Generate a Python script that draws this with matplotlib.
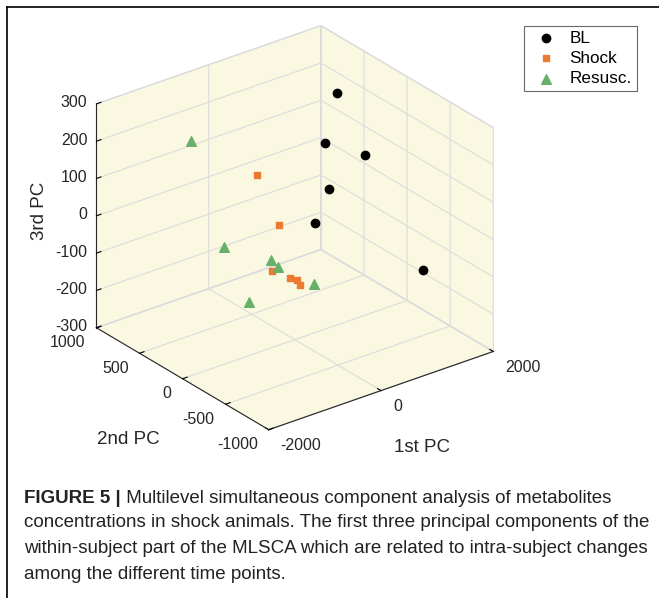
import matplotlib
matplotlib.use('Agg')
import matplotlib.pyplot as plt
from matplotlib.lines import Line2D
from mpl_toolkits.mplot3d import proj3d

plt.rcParams['font.family'] = ['Liberation Sans', 'DejaVu Sans']
plt.rcParams['axes.unicode_minus'] = False

# scores on the first three within-subject principal components
bl_pc1 = [1200, 1000, 1600, 900, 700, 1800]
bl_pc2 = [293, 302, 226, 186, 222, -313]
bl_pc3 = [258, 133, 81, 30, -55, -164]

shock_pc1 = [-600, -300, -700, -500, -400, -450]
shock_pc2 = [53, -7, -196, -267, -287, -351]
shock_pc3 = [166, 25, -53, -73, -81, -83]

resusc_pc1 = [-1500, -1200, -600, -550, -200, -1000]
resusc_pc2 = [233, 44, -119, -168, -354, -120]
resusc_pc3 = [280, 6, -39, -54, -91, -131]

pc1_ticks = [-2000, 0, 2000]
pc2_ticks = [-1000, -500, 0, 500, 1000]
pc3_ticks = [-300, -200, -100, 0, 100, 200, 300]

caption_head = 'FIGURE 5 |'
caption_line1 = ' Multilevel simultaneous component analysis of metabolites'
caption_rest = ('concentrations in shock animals. The first three principal components of the\n'
                'within-subject part of the MLSCA which are related to intra-subject changes\n'
                'among the different time points.')

txt = '#262626'
W, H = 659, 598
fig = plt.figure(figsize=(W / 100, H / 100), dpi=100)
ax = fig.add_axes([0.0065, 0.2253, 0.863, 0.7672], projection='3d')
ax.set_proj_type('ortho')
ax.view_init(elev=27, azim=-127.5)
ax.set_box_aspect((1, 1, 0.888))

ax.scatter(bl_pc1, bl_pc2, bl_pc3, marker='o', s=36, color='black',
           depthshade=False, label='BL')
ax.scatter(shock_pc1, shock_pc2, shock_pc3, marker='s', s=20, color='#ea7b30',
           depthshade=False, label='Shock')
ax.scatter(resusc_pc1, resusc_pc2, resusc_pc3, marker='^', s=48, color='#66b06a',
           depthshade=False, label='Resusc.')

ax.set_xlim(-2000, 2000)
ax.set_ylim(-1000, 1000)
ax.set_zlim(-300, 300)
ax.set_xticks(pc1_ticks)
ax.set_yticks(pc2_ticks)
ax.set_zticks(pc3_ticks)
ax.set_xticklabels([])
ax.set_yticklabels([])
ax.set_zticklabels([])

for a in (ax.xaxis, ax.yaxis, ax.zaxis):
    a.set_pane_color('#faf8e1')
    a.pane.set_edgecolor('#dddddd')
    a._axinfo['grid'].update(color='#dcdcdc', linewidth=0.8)
    a._axinfo['tick'].update(inward_factor=0.0, outward_factor=0.25)
    a.line.set_color(txt)
    a.line.set_linewidth(0.8)

# tick labels placed MATLAB-style next to the projected tick positions
fig.canvas.draw()
M = ax.get_proj()


def tick_label(x, y, z, s, dx, dy, ha):
    px, py, _ = proj3d.proj_transform(x, y, z, M)
    ax.annotate(s, xy=(px, py), xycoords='data', xytext=(dx, dy),
                textcoords='offset pixels', ha=ha, va='center',
                fontsize=11.5, color=txt, annotation_clip=False)


for v in pc1_ticks:
    tick_label(v, -1000, -300, str(v), 12, -16, 'left')
for v in pc2_ticks:
    tick_label(-2000, v, -300, str(v), -11, -15, 'right')
for v in pc3_ticks:
    tick_label(-2000, 1000, v, str(v), -9, 1, 'right')

fig.text(422 / W, 1 - 447 / H, '1st PC', fontsize=13.5, color=txt, ha='center', va='center')
fig.text(128 / W, 1 - 440 / H, '2nd PC', fontsize=13.5, color=txt, ha='center', va='center')
fig.text(40 / W, 1 - 211 / H, '3rd PC', fontsize=13.5, color=txt, ha='center', va='center',
         rotation=90)

leg = fig.legend(loc='upper right', bbox_to_anchor=(637 / W, 1 - 25.7 / H),
                 fancybox=False, edgecolor='#444444', fontsize=12.3,
                 handletextpad=0.4, borderpad=0.3, labelspacing=0.3, borderaxespad=0)
leg.get_frame().set_linewidth(0.8)

# figure frame (top and left edges of the panel)
fig.add_artist(Line2D([7 / W, 7 / W], [0, 1 - 7.3 / H], color='black', lw=1.2))
fig.add_artist(Line2D([7 / W, 1], [1 - 7.3 / H, 1 - 7.3 / H], color='black', lw=1.2))

head = fig.text(24 / W, 1 - 503 / H, caption_head, fontsize=13.5,
                fontweight='bold', color='#222222', va='baseline')
ax.annotate(caption_line1, xy=(1, 0), xycoords=head, va='bottom', ha='left',
            fontsize=13.5, color='#222222', annotation_clip=False)
fig.text(24 / W, 1 - 514 / H, caption_rest, fontsize=13.5, color='#222222',
         va='top', linespacing=1.7)

fig.savefig('out.png', dpi=100)
